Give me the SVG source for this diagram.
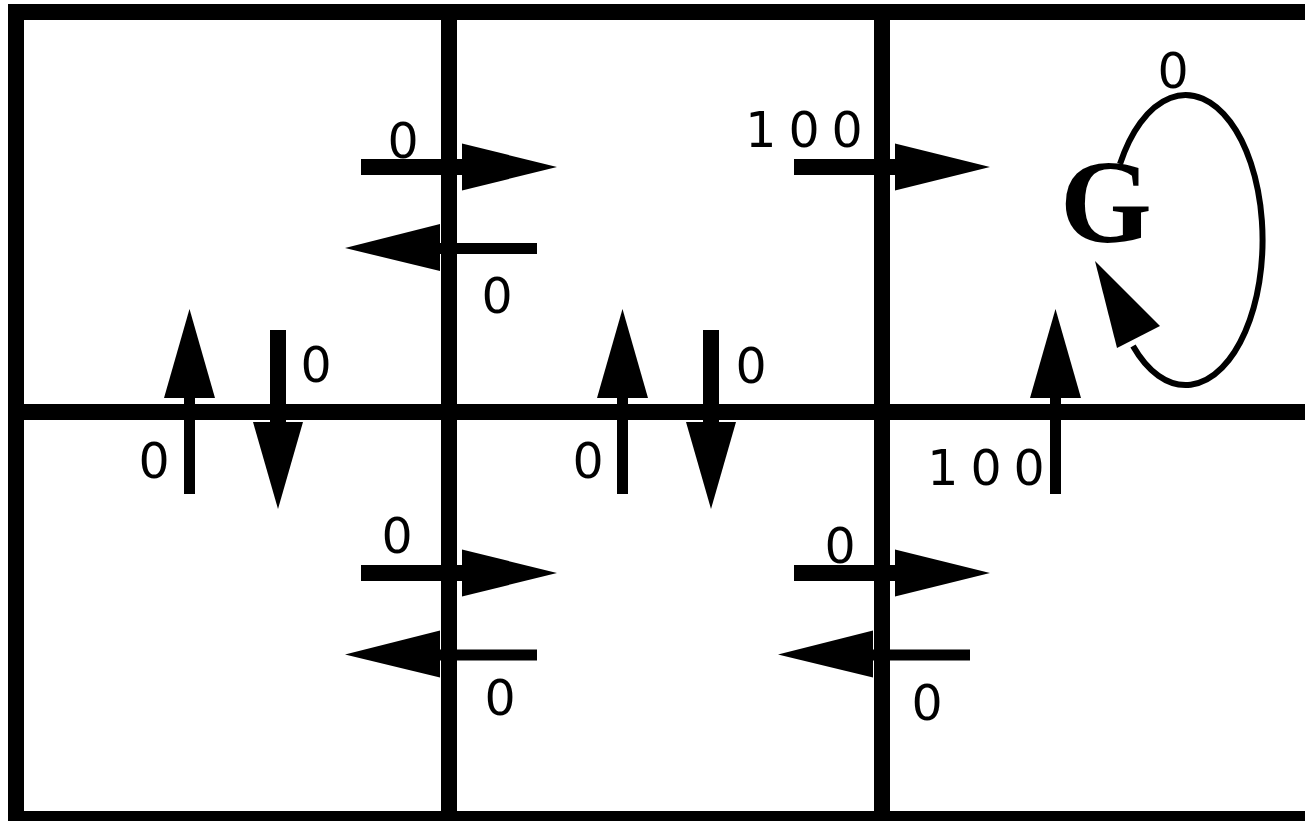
<svg xmlns="http://www.w3.org/2000/svg" width="1305" height="821" viewBox="0 0 1305 821">
  <style>
    .wall { stroke: #000; stroke-width: 16; fill: none; }
    .thick { stroke: #000; stroke-width: 16; fill: none; }
    .thin { stroke: #000; stroke-width: 11; fill: none; }
    .head { fill: #000; stroke: none; }
    .lbl { font-family: "DejaVu Sans", "Liberation Sans", sans-serif; font-size: 49px; fill: #000; text-anchor: middle; letter-spacing: 12px; }
    .loop { stroke: #000; stroke-width: 6; fill: none; }
    .g { font-family: "Liberation Serif", "Times New Roman", serif; font-weight: bold; font-size: 118px; fill: #000; text-anchor: middle; }
  </style>
  <rect x="0" y="0" width="1305" height="821" fill="#fff"/>
  <g id="grid">
    <line class="wall" x1="16" y1="4" x2="16" y2="821"/>
    <line class="wall" x1="8" y1="12" x2="1305" y2="12"/>
    <line class="wall" x1="8" y1="412" x2="1305" y2="412"/>
    <line class="wall" x1="8" y1="819" x2="1305" y2="819"/>
    <line class="wall" x1="449" y1="4" x2="449" y2="821"/>
    <line class="wall" x1="882" y1="4" x2="882" y2="821"/>
  </g>
  <g id="connectors">
    <g id="a-r1c1-right">
      <line class="thick" x1="361" y1="167" x2="465" y2="167"/>
      <polygon class="head" points="462,143.5 557,167 462,190.5"/>
      <text class="lbl" x="409" y="158">0</text>
    </g>
    <g id="a-r1c2-left">
      <line class="thin" x1="437" y1="248.5" x2="537" y2="248.5"/>
      <polygon class="head" points="440,224 345,248 440,271"/>
      <text class="lbl" x="503" y="313">0</text>
    </g>
    <g id="a-r1c2-right">
      <line class="thick" x1="794" y1="167" x2="898" y2="167"/>
      <polygon class="head" points="895,143.5 990,167 895,190.5"/>
      <text class="lbl" x="810" y="147">100</text>
    </g>
    <g id="a-r2c1-right">
      <line class="thick" x1="361" y1="573" x2="465" y2="573"/>
      <polygon class="head" points="462,549.5 557,573 462,596.5"/>
      <text class="lbl" x="403" y="553">0</text>
    </g>
    <g id="a-r2c2-left">
      <line class="thin" x1="437" y1="655" x2="537" y2="655"/>
      <polygon class="head" points="440,630.5 345,654.5 440,677.5"/>
      <text class="lbl" x="506" y="715">0</text>
    </g>
    <g id="a-r2c2-right">
      <line class="thick" x1="794" y1="573" x2="898" y2="573"/>
      <polygon class="head" points="895,549.5 990,573 895,596.5"/>
      <text class="lbl" x="846" y="563">0</text>
    </g>
    <g id="a-r2c3-left">
      <line class="thin" x1="870" y1="655" x2="970" y2="655"/>
      <polygon class="head" points="873,630.5 778,654.5 873,677.5"/>
      <text class="lbl" x="933" y="720">0</text>
    </g>
    <g id="a-r2c1-up">
      <line class="thin" x1="189.5" y1="395" x2="189.5" y2="494"/>
      <polygon class="head" points="164,398 189.5,309 215,398"/>
      <text class="lbl" x="160" y="478">0</text>
    </g>
    <g id="a-r1c1-down">
      <line class="thick" x1="278" y1="330" x2="278" y2="425"/>
      <polygon class="head" points="253,422 278,509 303,422"/>
      <text class="lbl" x="322" y="382">0</text>
    </g>
    <g id="a-r2c2-up">
      <line class="thin" x1="622.5" y1="395" x2="622.5" y2="494"/>
      <polygon class="head" points="597,398 622.5,309 648,398"/>
      <text class="lbl" x="594" y="478">0</text>
    </g>
    <g id="a-r1c2-down">
      <line class="thick" x1="711" y1="330" x2="711" y2="425"/>
      <polygon class="head" points="686,422 711,509 736,422"/>
      <text class="lbl" x="757" y="383">0</text>
    </g>
    <g id="a-r2c3-up">
      <line class="thin" x1="1055.5" y1="395" x2="1055.5" y2="494"/>
      <polygon class="head" points="1030,398 1055.5,309 1081,398"/>
      <text class="lbl" x="992" y="485">100</text>
    </g>
    <g id="a-goal-loop">
      <path class="loop" d="M 1120 164 A 77 145 0 1 1 1133 346"/>
      <polygon class="head" points="1095,261 1160,326 1117,348"/>
      <text class="lbl" x="1179" y="88">0</text>
    </g>
  </g>
  <g id="goal">
    <text class="g" x="1106" y="242">G</text>
  </g>
</svg>
